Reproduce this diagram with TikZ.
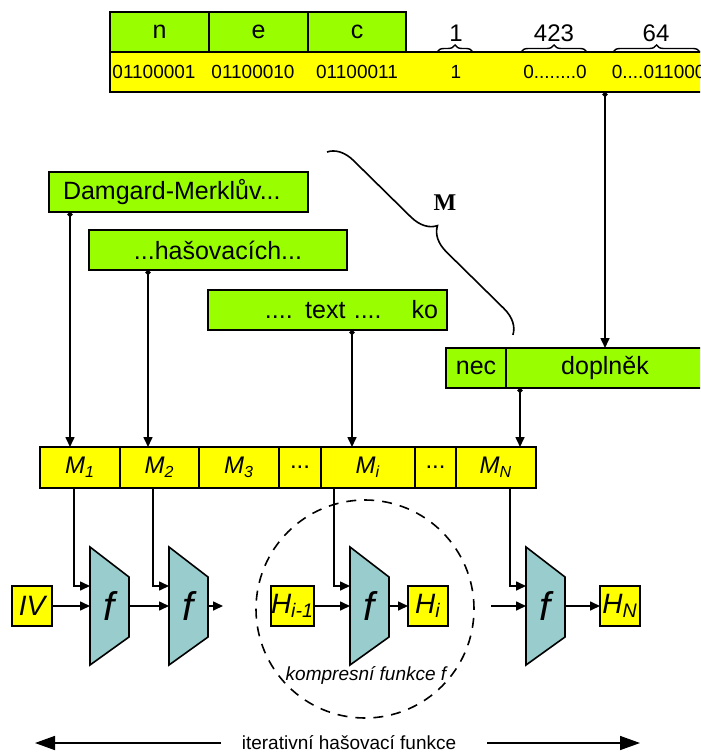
\documentclass[tikz,border=0pt]{standalone}
\usepackage{fontspec}
\setmainfont{Liberation Sans}
\newfontfamily\timesfont{Liberation Serif}
\usetikzlibrary{positioning}
\usetikzlibrary{calc}
\usetikzlibrary{arrows.meta}
\usetikzlibrary{decorations.pathreplacing}
\definecolor{lime}{HTML}{99FF00}
\definecolor{yel}{HTML}{FFFF00}
\definecolor{fcol}{HTML}{99CCCC}
\tikzset{>={Triangle[length=5pt,width=4.5pt]}}
\tikzset{gbox/.style={draw, fill=lime, line width=1pt, outer sep=0pt, inner sep=0pt, minimum height=20pt, font=\fontsize{12.5}{15}\selectfont}}
\tikzset{ybox/.style={draw, fill=yel, line width=1pt, outer sep=0pt, inner sep=0pt, minimum height=20pt}}
\tikzset{mcell/.style={ybox, minimum height=20.5pt, font=\fontsize{12}{14}\selectfont\itshape}}
\tikzset{hbox/.style={ybox, minimum width=20pt, font=\fontsize{14}{16}\selectfont\itshape}}
\tikzset{bits/.style={font=\fontsize{9.5}{11}\selectfont, inner sep=0pt}}
\tikzset{fshape/.style={draw, fill=fcol, line width=0.8pt}}
\tikzset{fnode/.style={minimum width=19.5pt, minimum height=59pt, inner sep=0pt, outer sep=0pt, font=\fontsize{20}{22}\selectfont\itshape}}
\tikzset{dotarrow/.style={arrows={Circle[length=2.5pt]->}}}
\tikzset{bigarrow/.style={-{Triangle[length=10pt,width=7pt]}}}

\begin{document}
\begin{tikzpicture}[x=0.5pt, y=-0.5pt, line width=0.8pt]
\clip (0,0) rectangle (700,753);

% top: message and padding bits
\node[gbox, minimum width=49.5pt, anchor=north west] (cn) at (110,12) {n};
\node[gbox, minimum width=49.5pt, right=0pt of cn] (ce) {e};
\node[gbox, minimum width=49pt, right=0pt of ce] (cc) {c};
\node[ybox, minimum width=305pt, anchor=north west] (bar) at (110,52) {};

\node[bits] (b1) at (154,72) {01100001};
\node[bits] (b2) at (253,72) {01100010};
\node[bits] (b3) at (357,72) {01100011};
\node[bits] (b4) at (456,72) {1};
\node[bits] (b5) at (555,72) {0........0};
\node[bits, anchor=west] (b6) at (611,72) {0....011000};

\draw[decorate, decoration={brace, amplitude=3.5pt}, line width=0.7pt] (437,52) -- (473,52);
\draw[decorate, decoration={brace, amplitude=3.5pt}, line width=0.7pt] (521,52) -- (587,52);
\draw[decorate, decoration={brace, amplitude=3.5pt}, line width=0.7pt] (613,52) -- (700,52);
\node[font=\fontsize{12}{14}\selectfont] (l1) at (456,33) {1};
\node[font=\fontsize{12}{14}\selectfont] (l423) at (554,33) {423};
\node[font=\fontsize{12}{14}\selectfont] (l64) at (656,33) {64};

% text pieces
\node[gbox, anchor=north west, text width=115.5pt, inner xsep=7pt, align=left] (dm) at (49,172) {Damgard-Merklův...};
\node[gbox, anchor=north west, minimum width=129pt] (hs) at (89,230) {...hašovacích...};
\node[gbox, anchor=north west, text width=110.5pt, inner xsep=4.5pt, align=right] (tx) at (208,290) {.... text ....\hspace{15pt}ko};
\node[gbox, anchor=north west, minimum width=30pt] (nec) at (446,348) {nec};
\node[gbox, minimum width=99pt, right=0pt of nec] (dop) {doplněk};

\draw[decorate, decoration={brace, amplitude=12.5pt}] (327,152) -- (513,335);
\node[font=\timesfont\bfseries\fontsize{12}{14}\selectfont] (Mlab) at (445,203) {M};

% blocks
\node[mcell, anchor=north west, minimum width=40pt] (M1) at (40,447) {M\textsubscript{1}};
\node[mcell, minimum width=39.5pt, right=0pt of M1] (M2) {M\textsubscript{2}};
\node[mcell, minimum width=40pt, right=0pt of M2] (M3) {M\textsubscript{3}};
\node[mcell, minimum width=21pt, right=0pt of M3, font=\fontsize{12}{14}\selectfont] (d1) {...};
\node[mcell, minimum width=47pt, right=0pt of d1] (Mi) {M\textsubscript{i}};
\node[mcell, minimum width=20.5pt, right=0pt of Mi, font=\fontsize{12}{14}\selectfont] (d2) {...};
\node[mcell, minimum width=40pt, right=0pt of d2] (MN) {M\textsubscript{N}};

\draw[dotarrow] (dm.south -| 70,0) -- (M1.north -| 70,0);
\draw[dotarrow] (hs.south -| 148,0) -- (M2.north -| 148,0);
\draw[dotarrow] (tx.south -| 352,0) -- (Mi.north -| 352,0);
\draw[dotarrow] (dop.south -| 520,0) -- (MN.north -| 520,0);
\draw[dotarrow] (bar.south -| 605,0) -- (dop.north -| 605,0);

% compression chain
\foreach \x/\n in {90/f1,169/f2,350/f3,526/f4}
  \draw[fshape] (\x,547) -- ++(39,30) -- ++(0,60) -- ++(-39,28) -- cycle
    node[fnode] (\n) at (\x+19.5,606) {f};

\node[hbox] (IV) at (32,606) {IV};
\node[hbox] (Hp) at (292.5,606) {H\textsubscript{i-1}};
\node[hbox] (Hi) at (428,606) {H\textsubscript{i}};
\node[hbox] (HN) at (620,606) {H\textsubscript{N}};
\coordinate (c1) at (223,606);
\coordinate (c2) at (491,606);

\draw[->] (IV) -- (f1);
\draw[->] (f1) -- (f2);
\draw[->] (f2) -- (c1);
\draw[->] (Hp) -- (f3);
\draw[->] (f3) -- (Hi);
\draw[->] (c2) -- (f4);
\draw[->] (f4) -- (HN);

\draw[->] (M1.south -| 74,0) |- ($(f1.west)+(0,-20)$);
\draw[->] (M2.south -| 153,0) |- ($(f2.west)+(0,-20)$);
\draw[->] (Mi.south -| 334,0) |- ($(f3.west)+(0,-20)$);
\draw[->] (MN.south -| 510,0) |- ($(f4.west)+(0,-20)$);

\node[circle, draw, dash pattern=on 5pt off 4pt, minimum size=109pt] (cf) at (365,609) {};
\node[font=\fontsize{9.5}{11}\selectfont\itshape] (cfl) at (366,675) {kompresní funkce f};

% bottom
\node[font=\fontsize{9.5}{11}\selectfont, inner xsep=10pt] (iter) at (349,743) {iterativní hašovací funkce};
\coordinate (il) at (35,743);
\coordinate (ir) at (640,743);
\draw[bigarrow] (iter.west) -- (il);
\draw[bigarrow] ([xshift=5pt]iter.east) -- (ir);
\end{tikzpicture}
\end{document}
